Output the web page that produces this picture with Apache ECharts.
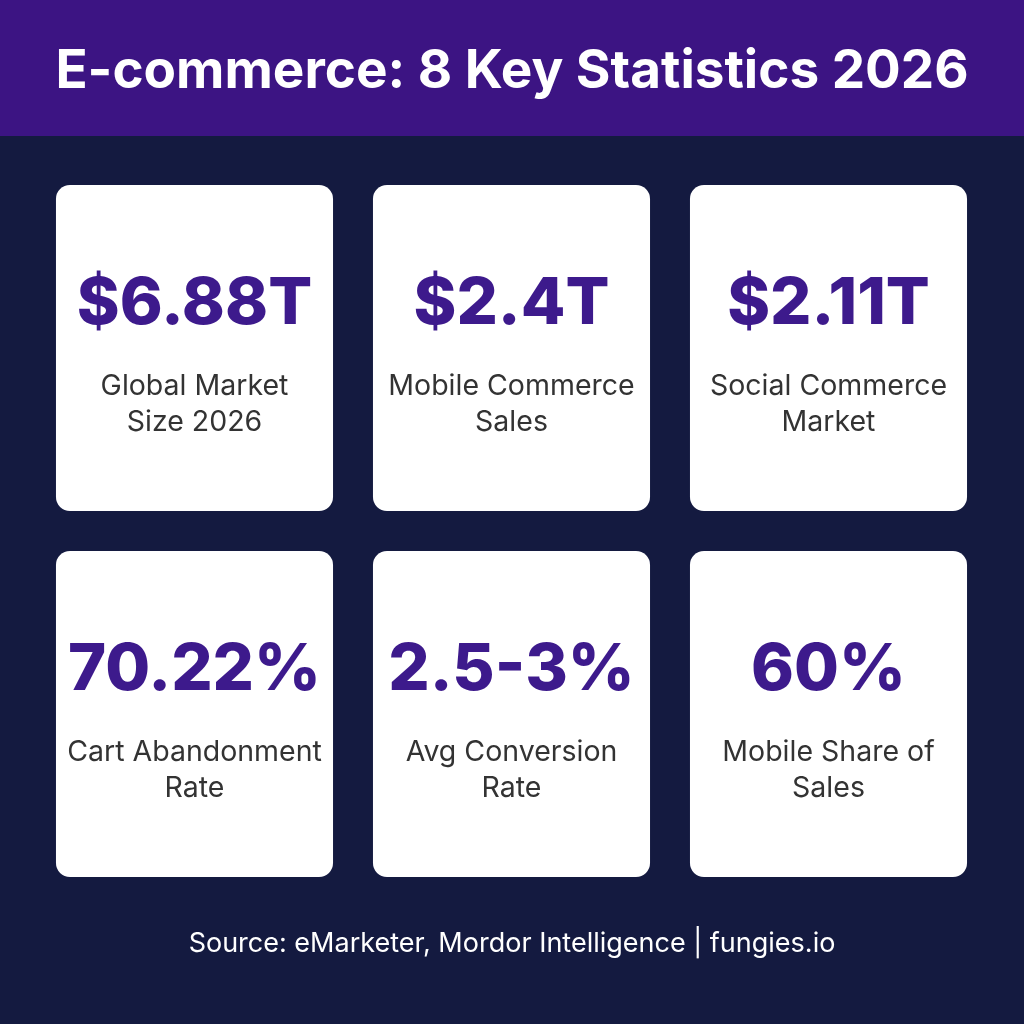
<!DOCTYPE html>
<html>
<head>
    <meta charset="utf-8">
    <title>E-commerce key statistics</title>
    <script src="https://cdn.jsdelivr.net/npm/echarts@6/dist/echarts.min.js"></script>
    <style>
        html, body { margin: 0; padding: 0; background: #141a40; }
        #chart { width: 1024px; height: 1024px; }
    </style>
</head>
<body>
<div id="chart"></div>
<script>
// card values and captions, in reading order
const statValues = ['$6.88T', '$2.4T', '$2.11T', '70.22%', '2.5-3%', '60%'];
const statLabels = [
    'Global Market\nSize 2026',
    'Mobile Commerce\nSales',
    'Social Commerce\nMarket',
    'Cart Abandonment\nRate',
    'Avg Conversion\nRate',
    'Mobile Share of\nSales'
];
const columns = 3;
const titleText = 'E-commerce: 8 Key Statistics 2026';
const sourceText = 'Source: eMarketer, Mordor Intelligence | fungies.io';

const cards = statValues.map((v, i) => [i % columns, Math.floor(i / columns), v, statLabels[i]]);

const chart = echarts.init(document.getElementById('chart'));
chart.setOption({
    backgroundColor: '#141a40',
    animation: false,
    graphic: [
        { type: 'rect', left: 0, top: 0, shape: { width: 1024, height: 136 }, style: { fill: '#3c1483' } },
        {
            type: 'text', x: 512, y: 72,
            style: {
                text: titleText, fill: '#ffffff', font: 'bold 53px Inter, "Noto Sans", sans-serif',
                align: 'center', verticalAlign: 'middle'
            }
        },
        {
            type: 'text', x: 512, y: 944,
            style: {
                text: sourceText, fill: '#ffffff', font: '27px Inter, "Noto Sans", sans-serif',
                align: 'center', verticalAlign: 'middle'
            }
        }
    ],
    grid: { left: 36, right: 37, top: 165, bottom: 127 },
    xAxis: { type: 'value', min: -0.5, max: 2.5, show: false },
    yAxis: { type: 'value', min: -0.5, max: 1.5, inverse: true, show: false },
    series: [{
        type: 'custom',
        data: cards,
        renderItem: function (params, api) {
            const c = api.coord([api.value(0), api.value(1)]);
            const unit = api.size([1, 1]);
            const w = unit[0] * 0.874, h = unit[1] * 0.891;
            const d = cards[params.dataIndex];
            return {
                type: 'group',
                children: [
                    {
                        type: 'rect',
                        shape: { x: c[0] - w / 2, y: c[1] - h / 2, width: w, height: h, r: 14 },
                        style: { fill: '#ffffff' }
                    },
                    {
                        type: 'text',
                        x: c[0], y: c[1] - 44,
                        style: {
                            text: d[2], fill: '#3d1a8c',
                            font: '800 65px Inter, "Noto Sans", sans-serif',
                            align: 'center', verticalAlign: 'middle'
                        }
                    },
                    {
                        type: 'text',
                        x: c[0], y: c[1] + 56,
                        style: {
                            text: d[3], fill: '#333333',
                            font: '28.5px Inter, "Noto Sans", sans-serif',
                            lineHeight: 36,
                            align: 'center', verticalAlign: 'middle'
                        }
                    }
                ]
            };
        }
    }]
});
</script>
</body>
</html>
